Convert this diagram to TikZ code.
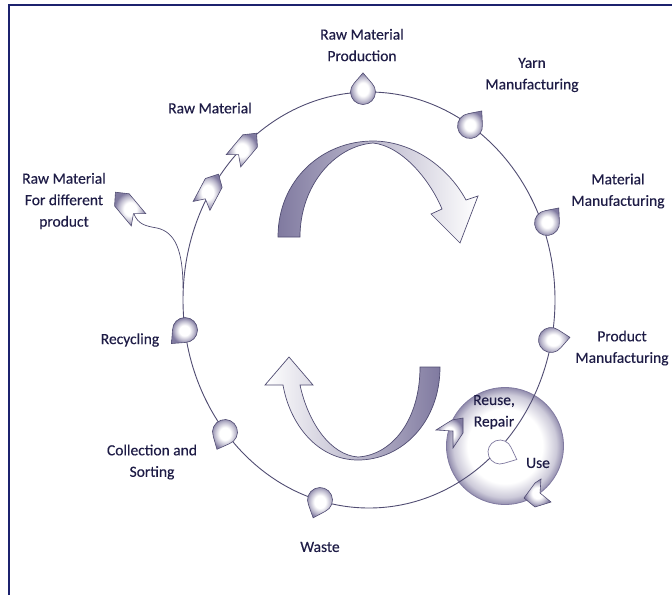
\documentclass[tikz,border=0pt]{standalone}
\usepackage{fontspec}
\setmainfont{Carlito}
\newfontfamily\lblfont{Carlito}[FakeBold=0.35]
\usetikzlibrary{positioning}
\definecolor{ink}{RGB}{30,28,70}
\definecolor{lav}{RGB}{128,122,160}
\definecolor{lavline}{RGB}{80,76,114}
\definecolor{framecol}{RGB}{28,34,110}
\pgfdeclareradialshading{soft}{\pgfpoint{0bp}{0bp}}{color(0bp)=(white); color(10bp)=(white); color(19bp)=(lav!55); color(25bp)=(lav); color(50bp)=(lav)}
\pgfdeclareradialshading{softbig}{\pgfpoint{0bp}{0bp}}{color(0bp)=(white); color(16bp)=(white); color(22bp)=(lav!40); color(25bp)=(lav!85); color(50bp)=(lav!85)}

\begin{document}
\begin{tikzpicture}[x=1pt,y=-1pt,
    lbl/.style={text=ink, align=center, inner sep=0pt, font=\lblfont\fontsize{15.5}{21.5}\selectfont},
    ring/.style={draw=lavline, line width=0.9pt},
    ppt/.style={draw=lavline, line width=0.6pt, shading=soft},
    bigarr/.style={draw=lavline, line width=0.7pt, left color=lav, right color=white},
    bigarrback/.style={draw=lavline, line width=0.7pt, left color=white, right color=lav},
    drop/.pic={\path[ppt] (0pt,12.5pt) arc[start angle=90,end angle=360,radius=12.5pt] -- (13.5pt,13.5pt) -- cycle;},
    idrop/.pic={\path[draw=lav, line width=0.7pt, fill=white] (0pt,12pt) arc[start angle=90,end angle=360,radius=12pt] -- (13pt,13pt) -- cycle;},
    chev/.pic={\path[ppt] (-18pt,-9.5pt) -- (8pt,-9.5pt) -- (18pt,0pt) -- (8pt,9.5pt) -- (-18pt,9.5pt) -- (-10pt,0pt) -- cycle;}]
    \useasboundingbox (0,0) rectangle (672,595);
    \draw[framecol, line width=1.5pt] (9,595) |- (672,5);

    \node[circle, minimum size=117pt, draw=lav, line width=0.8pt, shading=softbig] (reuse) at (505,446) {};
    \draw[ring] (369,300) ellipse [x radius=186, y radius=208];

    \path[bigarr] (278,237) .. controls (278,180) and (322,141) .. (373,141)
        .. controls (410,141) and (447,165) .. (466,200) -- (478,196) -- (460,243) -- (431,214) -- (442,209)
        .. controls (430,180) and (402,146) .. (373,143) .. controls (335,146) and (300,185) .. (300,237) -- cycle;
    \path[bigarrback] (440,367) .. controls (440,422) and (402,460) .. (358,460)
        .. controls (318,460) and (290,425) .. (283,385) -- (265,385) -- (289,357) -- (313,385) -- (300,385)
        .. controls (308,422) and (330,455) .. (358,457) .. controls (392,455) and (420,420) .. (420,367) -- cycle;

    \coordinate (split) at (183,288);
    \coordinate (brd) at (134,214);
    \draw[ring, line width=0.7pt] (split) .. controls (183,250) and (175,232) .. (157,228)
        .. controls (145,226) and (138,224) .. (brd);

    \pic (dprod)  [rotate=45]  at (363,92)  {drop};
    \pic (dyarn)  [rotate=7]   at (470,126) {drop};
    \pic (dmat)   [rotate=7]   at (547,223) {drop};
    \pic (dprd)   [rotate=-37] at (551,340) {drop};
    \pic (drec)   [rotate=180] at (185,330) {drop};
    \pic (dcol)   [rotate=200] at (225,432) {drop};
    \pic (dwaste) [rotate=204] at (320,500) {drop};
    \pic (duse)   [rotate=-69] at (500,452) {idrop};

    \pic (rawA) [rotate=50]  at (245,147) {chev};
    \pic (rawB) [rotate=62]  at (210,190) {chev};
    \pic (rawC) [rotate=130] at (127,206) {chev};

    \path[ppt] (436,430) -- (452,420) -- (463,418) -- (463,433) -- (453,448) -- (453,431) -- cycle;
    \path[ppt] (524,498) -- (535,483) -- (541,479) -- (540,493) -- (551,502) -- (535,507) -- cycle;

    \node[lbl] (tprod)  at (362,45)  {Raw Material\\Production};
    \node[lbl] (tyarn)  at (532,75)  {Yarn\\Manufacturing};
    \node[lbl] (tmat)   at (618,191) {Material\\Manufacturing};
    \node[lbl] (tprd)   at (622,348) {Product\\Manufacturing};
    \node[lbl] (traw)   at (210,108) {Raw Material};
    \node[lbl] (tdiff)  at (64,201)  {Raw Material\\For different\\product};
    \node[lbl] (trec)   at (130,340) {Recycling};
    \node[lbl] (tcol)   at (152,462) {Collection and\\Sorting};
    \node[lbl] (twaste) at (320,547) {Waste};
    \node[lbl] (treuse) at (494,412) {Reuse,\\Repair};
    \node[lbl] (tuse)   at (538,463) {Use};
\end{tikzpicture}
\end{document}
